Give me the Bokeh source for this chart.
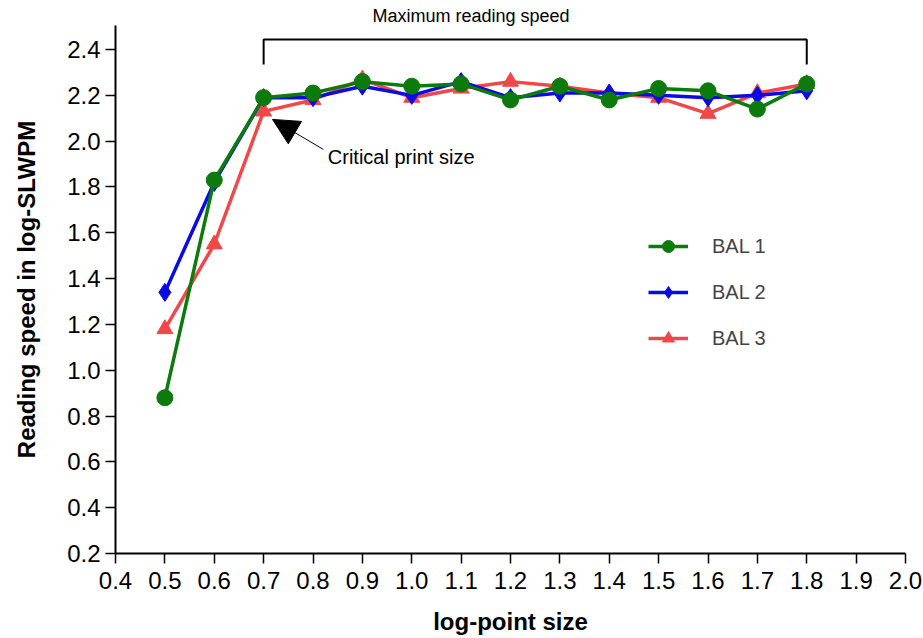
from bokeh.plotting import figure
from bokeh.models import (FixedTicker, PrintfTickFormatter, Legend, LegendItem,
                          Label, Arrow, NormalHead, Range1d)
from bokeh.embed import file_html
from bokeh.resources import INLINE

x_vals = [0.5, 0.6, 0.7, 0.8, 0.9, 1.0, 1.1, 1.2, 1.3, 1.4, 1.5, 1.6, 1.7, 1.8]
bal1 = [0.88, 1.83, 2.19, 2.21, 2.26, 2.24, 2.25, 2.18, 2.24, 2.18, 2.23, 2.22, 2.14, 2.25]
bal2 = [1.34, 1.82, 2.19, 2.19, 2.24, 2.20, 2.26, 2.19, 2.21, 2.21, 2.20, 2.19, 2.20, 2.22]
bal3 = [1.18, 1.55, 2.13, 2.18, 2.27, 2.19, 2.23, 2.26, 2.24, 2.21, 2.19, 2.12, 2.21, 2.25]
x_ticks = [0.4, 0.5, 0.6, 0.7, 0.8, 0.9, 1.0, 1.1, 1.2, 1.3, 1.4, 1.5, 1.6, 1.7, 1.8, 1.9, 2.0]
y_ticks = [0.2, 0.4, 0.6, 0.8, 1.0, 1.2, 1.4, 1.6, 1.8, 2.0, 2.2, 2.4]

FONT = "Liberation Sans"

p = figure(width=923, height=638, output_backend="svg", toolbar_location=None,
           x_range=Range1d(0.4, 2.0), y_range=Range1d(0.2, 2.505),
           title="Maximum reading speed")
p.min_border_left = 115
p.min_border_right = 18
p.min_border_top = 25
p.min_border_bottom = 85
p.outline_line_color = None
p.xgrid.visible = False
p.ygrid.visible = False
p.background_fill_color = "white"

p.title.text_font = FONT
p.title.text_font_size = "18px"
p.title.text_font_style = "normal"
p.title.text_color = "black"
p.title.align = "left"
p.title.offset = 257
p.title.standoff = 0

p.xaxis.ticker = FixedTicker(ticks=x_ticks)
p.yaxis.ticker = FixedTicker(ticks=y_ticks)
p.axis.formatter = PrintfTickFormatter(format="%.1f")
p.axis.axis_line_width = 2
p.axis.axis_line_color = "black"
p.axis.major_tick_line_width = 1.5
p.axis.major_tick_line_color = "black"
p.axis.major_tick_out = 10
p.axis.major_tick_in = 0
p.axis.minor_tick_out = 0
p.axis.minor_tick_in = 0
p.axis.major_label_text_font = FONT
p.axis.major_label_text_color = "black"
p.axis.major_label_text_font_size = "24px"
p.axis.axis_label_text_font = FONT
p.axis.axis_label_text_font_size = "24px"
p.axis.axis_label_text_font_style = "bold"
p.axis.axis_label_text_color = "black"
p.xaxis.axis_label = "log-point size"
p.yaxis.axis_label = "Reading speed in log-SLWPM"
p.xaxis.axis_label_standoff = 16
p.yaxis.axis_label_standoff = 24
p.xaxis.major_label_standoff = 8
p.yaxis.major_label_standoff = 5

red = "#f04848"
blue = "#0a0ae6"
green = "#0c7a0c"

l3 = p.line(x_vals, bal3, line_color=red, line_width=3.5)
s3 = p.scatter(x_vals, bal3, marker="triangle", size=16, fill_color=red, line_color=red)
l2 = p.line(x_vals, bal2, line_color=blue, line_width=3.5)
s2 = p.scatter(x_vals, bal2, marker="diamond", size=18, fill_color=blue, line_color=blue)
l1 = p.line(x_vals, bal1, line_color=green, line_width=3.5)
s1 = p.scatter(x_vals, bal1, marker="circle", size=16, fill_color=green, line_color=green)

legend = Legend(items=[
    LegendItem(label="BAL 1", renderers=[l1, s1]),
    LegendItem(label="BAL 2", renderers=[l2, s2]),
    LegendItem(label="BAL 3", renderers=[l3, s3]),
], location=(533, 200))
legend.border_line_color = None
legend.background_fill_alpha = 0
legend.label_text_font = FONT
legend.label_text_font_size = "20px"
legend.glyph_width = 40
legend.glyph_height = 30
legend.label_height = 30
legend.spacing = 16
legend.padding = 0
legend.margin = 0
legend.label_standoff = 24
p.add_layout(legend)

# bracket for maximum reading speed
br_x0, br_x1 = 0.7, 1.8
br_top, br_bot = 2.444, 2.335
p.line([br_x0, br_x0, br_x1, br_x1], [br_bot, br_top, br_top, br_bot],
       line_color="black", line_width=2)

# critical print size arrow
p.add_layout(Arrow(x_start=0.821, y_start=1.964, x_end=0.718, y_end=2.095,
                   line_color="black", line_width=1,
                   end=NormalHead(size=26, fill_color="black", line_color="black")))
p.add_layout(Label(x=0.83, y=1.929, text="Critical print size", text_font=FONT,
                   text_font_size="20px", text_align="left", text_baseline="middle",
                   text_color="black"))

open("out.html", "w").write(file_html(p, INLINE))
